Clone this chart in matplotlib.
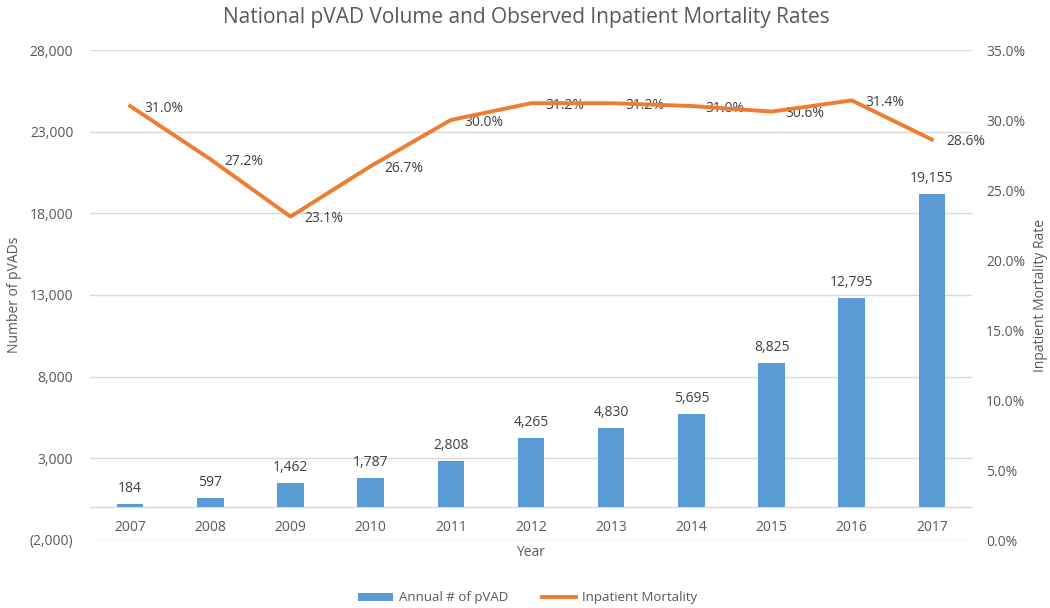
import matplotlib
matplotlib.use("Agg")
import matplotlib.pyplot as plt
from matplotlib.ticker import FuncFormatter
from matplotlib.patches import Patch
from matplotlib.lines import Line2D

years = ["2007", "2008", "2009", "2010", "2011", "2012", "2013", "2014", "2015", "2016", "2017"]
volume = [184, 597, 1462, 1787, 2808, 4265, 4830, 5695, 8825, 12795, 19155]
mortality = [31.0, 27.2, 23.1, 26.7, 30.0, 31.2, 31.2, 31.0, 30.6, 31.4, 28.6]
left_ticks = [-2000, 3000, 8000, 13000, 18000, 23000, 28000]
right_ticks = [0, 5, 10, 15, 20, 25, 30, 35]

plt.rcParams['font.family'] = ['Open Sans', 'DejaVu Sans']
gray = '#595959'
grid = '#d9d9d9'
blue = '#5b9bd5'
orange = '#ed7d31'

fig = plt.figure(figsize=(10.5, 6.08), dpi=100)
ax = fig.add_axes([90/1050, 1-540/608, (972-90)/1050, (540-50)/608])
ax2 = ax.twinx()

x = list(range(len(years)))
ax.bar(x, volume, width=0.33, color=blue, zorder=3)
ax.set_ylim(-2000, 28000)
ax.set_yticks(left_ticks)
def fmt_left(v, p):
    if v < 0:
        return "({:,.0f})".format(-v)
    return "{:,.0f}".format(v)
ax.yaxis.set_major_formatter(FuncFormatter(fmt_left))
ax.set_xlim(-0.5, len(years) - 0.5)
ax.set_xticks(x)
ax.set_xticklabels([])
ax.grid(axis='y', color=grid, linewidth=1, zorder=0)
ax.axhline(0, color=grid, linewidth=1, zorder=1)
for s in ax.spines.values():
    s.set_visible(False)
for s in ax2.spines.values():
    s.set_visible(False)
ax.tick_params(axis='both', length=0, colors=gray, labelsize=10)
ax.tick_params(axis='y', pad=12)

for xi, yr in zip(x, years):
    ax.annotate(yr, (xi, 0), xytext=(0, -20), textcoords='offset pixels',
                ha='center', va='center', color=gray, fontsize=10)

for xi, v in zip(x, volume):
    ax.annotate("{:,}".format(v), (xi, v), xytext=(0, 8), textcoords='offset pixels',
                ha='center', va='bottom', color='#404040', fontsize=10)

ax2.plot(x, mortality, color=orange, linewidth=2.8, zorder=4)
ax2.set_ylim(0, 35)
ax2.set_yticks(right_ticks)
ax2.yaxis.set_major_formatter(FuncFormatter(lambda v, p: "{:.1f}%".format(v)))
ax2.tick_params(axis='y', length=0, colors=gray, labelsize=10, pad=10)
for xi, m in zip(x, mortality):
    ax2.annotate("{:.1f}%".format(m), (xi, m), xytext=(14, -2), textcoords='offset pixels',
                 ha='left', va='center', color='#404040', fontsize=10)

fig.text(526/1050, 1-17/608, "National pVAD Volume and Observed Inpatient Mortality Rates",
         ha='center', va='center', fontsize=15, color=gray)
fig.text(15/1050, 1-295/608, "Number of pVADs", rotation=90, ha='center', va='center',
         fontsize=10, color=gray)
fig.text(1040/1050, 1-295/608, "Inpatient Mortality Rate", rotation=90, ha='center', va='center',
         fontsize=10, color=gray)
fig.text(531/1050, 1-552/608, "Year", ha='center', va='center', fontsize=10, color=gray)

handles = [Patch(facecolor=blue), Line2D([0], [0], color=orange, linewidth=2.8)]
fig.legend(handles, ["Annual # of pVAD", "Inpatient Mortality"], loc='center',
           bbox_to_anchor=(528/1050, 1-598/608), ncol=2, frameon=False,
           fontsize=9.5, labelcolor=gray, handlelength=2.6, handleheight=0.6,
           columnspacing=2.5, handletextpad=0.5)

fig.savefig("out.png", dpi=100)
